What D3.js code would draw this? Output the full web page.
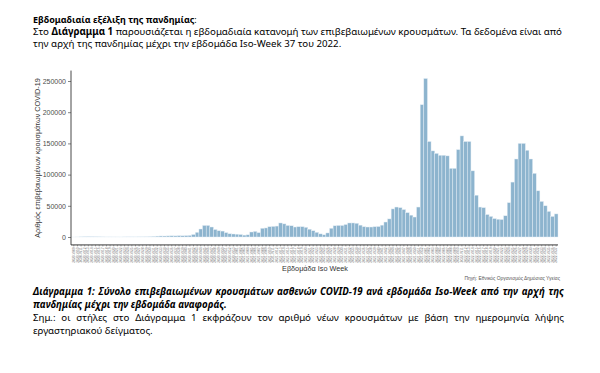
<!DOCTYPE html>
<html>
<head>
<meta charset="utf-8">
<script src="https://cdn.jsdelivr.net/npm/d3@7"></script>
<style>
  body { margin: 0; background: #fff; }
</style>
</head>
<body>
<div id="chart"></div>
<script>
// διαστάσεις του καμβά
const width = 600, height = 373;

// εβδομάδες Iso-Week (κατηγορίες του άξονα x)
const weeks2020 = d3.range(9, 54).map(w => "2020-W" + String(w).padStart(2, "0"));
const weeks2021 = d3.range(1, 53).map(w => "2021-W" + String(w).padStart(2, "0"));
const weeks2022 = d3.range(1, 38).map(w => "2022-W" + String(w).padStart(2, "0"));

// κρούσματα ανά εβδομάδα (εκτίμηση από το γράφημα)
const cases2020 = [10, 80, 250, 400, 550, 450, 350, 300, 200, 100,
  110, 90, 80, 60, 150, 200, 180, 150, 220, 250,
  300, 450, 900, 1400, 1650, 1600, 1750, 1900, 1800, 2100,
  1950, 2200, 2500, 4000, 7500, 12800, 18500, 18500, 16000, 12000,
  10000, 9500, 7000, 5200, 4800];
const cases2021 = [4500, 4000, 3000, 3500, 8000, 9000, 7000, 14000, 14500, 16500,
  17000, 17500, 22500, 21000, 18500, 18000, 16000, 16500, 16500, 15500,
  12500, 10000, 7500, 5000, 3500, 6500, 14000, 18000, 18500, 18500,
  20000, 22500, 22500, 22000, 19000, 16500, 16000, 16000, 16500, 16800,
  19000, 24000, 29000, 45000, 48000, 47000, 44000, 39000, 35000, 32000,
  48000, 212000];
const cases2022 = [254000, 153000, 138000, 134000, 131000, 131000, 130000, 110000, 110000, 140000,
  162000, 153000, 153000, 106000, 67000, 48000, 47000, 36000, 33000, 29500,
  28500, 28000, 34000, 55000, 88000, 125000, 150000, 150000, 139000, 125000,
  102000, 74000, 57000, 50000, 41000, 33000, 37000];

const yTicks = [0, 50000, 100000, 150000, 200000, 250000];

const weeks = weeks2020.concat(weeks2021, weeks2022);
const cases = cases2020.concat(cases2021, cases2022);
const data = weeks.map((w, i) => ({ week: w, value: cases[i] }));

const svg = d3.select("#chart")
    .append("svg")
    .attr("width", width)
    .attr("height", height)
    .style("font-family", "'Liberation Sans', Arial, sans-serif");

svg.append("rect").attr("width", width).attr("height", height).attr("fill", "#fff");

const bodyFont = "'Noto Sans', 'Liberation Sans', sans-serif";
const x0 = 33;

// ajuste la taille de police pour une largeur donnée
function fitWidth(t, w) {
  const l = t.node().getComputedTextLength();
  t.attr("font-size", parseFloat(t.attr("font-size")) * w / l);
}
// justification : espacement des mots
function justify(t, w) {
  const txt = t.text();
  const n = (txt.match(/ /g) || []).length;
  const l = t.node().getComputedTextLength();
  t.attr("word-spacing", (w - l) / n);
}

// --- texte d'en-tête
const title = svg.append("text")
    .attr("x", x0).attr("y", 22.5)
    .attr("font-family", bodyFont).attr("font-size", 10).attr("font-weight", "bold")
    .attr("fill", "#000");
title.append("tspan").text("Εβδομαδιαία εξέλιξη της πανδημίας");
title.append("tspan").attr("font-weight", "normal").text(":");
fitWidth(title, 197 - x0);

const l2 = svg.append("text")
    .attr("x", x0).attr("y", 35)
    .attr("font-family", bodyFont).attr("font-size", 10).attr("fill", "#000");
l2.append("tspan").text("Στο ");
l2.append("tspan").attr("font-weight", "bold").text("Διάγραμμα 1");
l2.append("tspan").text(" παρουσιάζεται η εβδομαδιαία κατανομή των επιβεβαιωμένων κρουσμάτων. Τα δεδομένα είναι από");
fitWidth(l2, 563 - x0);
const bodySize = +l2.attr("font-size");

svg.append("text")
    .attr("x", x0).attr("y", 47)
    .attr("font-family", bodyFont).attr("font-size", bodySize).attr("fill", "#000")
    .text("την αρχή της πανδημίας μέχρι την εβδομάδα Iso-Week 37 του 2022.");

// --- graphique
const x = d3.scaleBand().domain(weeks).range([72, 558]).padding(0);
const y = d3.scaleLinear().domain([0, 250000]).range([237, 81]);
const yBottom = y(-12700), yTop = y(266700);

const g = svg.append("g");

g.selectAll("rect.bar")
    .data(data)
    .enter()
    .append("rect")
    .attr("class", "bar")
    .attr("x", d => x(d.week))
    .attr("width", x.bandwidth())
    .attr("y", d => y(d.value))
    .attr("height", d => y(0) - y(d.value))
    .attr("fill", "#8db4ce")
    .attr("stroke", "#e4eef5")
    .attr("stroke-width", 0.45);

// axe y
const yAxis = g.append("g")
    .attr("transform", "translate(71,0)")
    .call(d3.axisLeft(y).tickValues(yTicks).tickSize(3).tickPadding(2).tickFormat(d3.format("d")));
yAxis.select(".domain").remove();
yAxis.selectAll(".tick line").attr("stroke", "#333").attr("stroke-width", 0.6);
yAxis.selectAll(".tick text").attr("font-size", 7).attr("fill", "#4d4d4d")
    .attr("font-family", "'Liberation Sans', Arial, sans-serif");
g.append("line").attr("x1", 71).attr("x2", 71).attr("y1", yTop).attr("y2", yBottom)
    .attr("stroke", "#333").attr("stroke-width", 0.9);

// axe x
const xAxis = g.append("g")
    .attr("transform", `translate(0,${yBottom})`)
    .call(d3.axisBottom(x).tickSize(1.5).tickPadding(1));
xAxis.select(".domain").remove();
xAxis.selectAll(".tick line").attr("stroke", "#333").attr("stroke-width", 0.4);
xAxis.selectAll(".tick text")
    .attr("font-size", 3.3).attr("fill", "#777")
    .attr("font-family", "'Liberation Sans', Arial, sans-serif")
    .attr("transform", "rotate(-90)")
    .attr("text-anchor", "end")
    .attr("x", -2.5).attr("y", 0).attr("dy", "0.35em");
g.append("line").attr("x1", 71).attr("x2", 558).attr("y1", yBottom).attr("y2", yBottom)
    .attr("stroke", "#222").attr("stroke-width", 0.9);

// titres des axes
const yTitle = svg.append("text")
    .attr("transform", `translate(40,${(78 + 238) / 2}) rotate(-90)`)
    .attr("text-anchor", "middle")
    .attr("font-size", 7).attr("fill", "#333")
    .text("Αριθμός επιβεβαιωμένων κρουσμάτων COVID-19");
fitWidth(yTitle, 160);

const xTitle = svg.append("text")
    .attr("x", 315).attr("y", 271)
    .attr("text-anchor", "middle")
    .attr("font-size", 7.5).attr("fill", "#333")
    .text("Εβδομάδα Iso Week");
fitWidth(xTitle, 66);

const src = svg.append("text")
    .attr("x", 560).attr("y", 279.5)
    .attr("text-anchor", "end")
    .attr("font-size", 5).attr("fill", "#555")
    .text("Πηγή: Εθνικός Οργανισμός Δημόσιας Υγείας");
fitWidth(src, 96);

// --- légende du diagramme
const c1 = svg.append("text")
    .attr("x", x0).attr("y", 295)
    .attr("font-family", bodyFont).attr("font-size", bodySize)
    .attr("font-weight", "bold").attr("font-style", "italic").attr("fill", "#000")
    .text("Διάγραμμα 1: Σύνολο επιβεβαιωμένων κρουσμάτων ασθενών COVID-19 ανά εβδομάδα Iso-Week από την αρχή της");
justify(c1, 564 - x0);

svg.append("text")
    .attr("x", x0).attr("y", 307.5)
    .attr("font-family", bodyFont).attr("font-size", bodySize)
    .attr("font-weight", "bold").attr("font-style", "italic").attr("fill", "#000")
    .text("πανδημίας μέχρι την εβδομάδα αναφοράς.");

const c3 = svg.append("text")
    .attr("x", x0).attr("y", 321)
    .attr("font-family", bodyFont).attr("font-size", bodySize).attr("fill", "#000")
    .text("Σημ.: οι στήλες στο Διάγραμμα 1 εκφράζουν τον αριθμό νέων κρουσμάτων με βάση την ημερομηνία λήψης");
justify(c3, 564 - x0);

svg.append("text")
    .attr("x", x0).attr("y", 333.5)
    .attr("font-family", bodyFont).attr("font-size", bodySize).attr("fill", "#000")
    .text("εργαστηριακού δείγματος.");
</script>
</body>
</html>
